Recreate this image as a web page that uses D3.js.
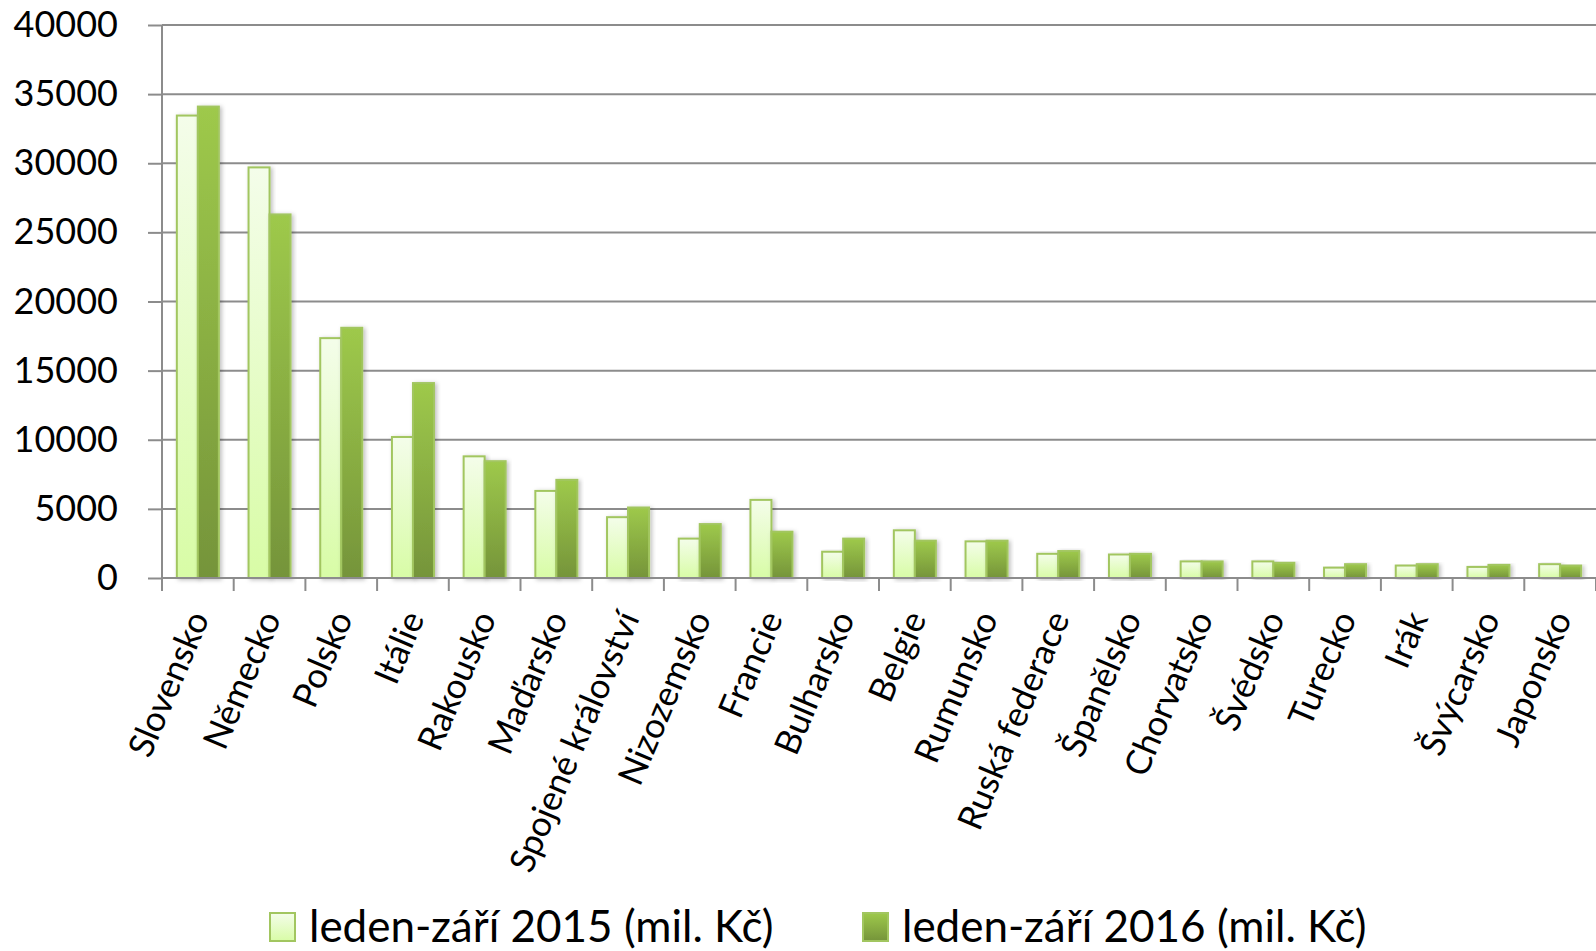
<!DOCTYPE html>
<html>
<head>
<meta charset="utf-8">
<script src="https://cdn.jsdelivr.net/npm/d3@7"></script>
<style>
  body { margin: 0; background: #fff; }
  text { font-family: Lato, "Open Sans", sans-serif; fill: #000; }
</style>
</head>
<body>
<svg id="chart" width="1596" height="951"></svg>
<script>
// data (mil. Kč)
const countries = ["Slovensko", "Německo", "Polsko", "Itálie", "Rakousko", "Maďarsko",
    "Spojené království", "Nizozemsko", "Francie", "Bulharsko", "Belgie", "Rumunsko",
    "Ruská federace", "Španělsko", "Chorvatsko", "Švédsko", "Turecko", "Irák",
    "Švýcarsko", "Japonsko"];
const values2015 = [33450, 29700, 17350, 10200, 8800, 6300, 4400, 2850, 5650, 1900,
    3450, 2650, 1750, 1700, 1200, 1200, 750, 900, 800, 1000];
const values2016 = [34100, 26300, 18100, 14100, 8450, 7100, 5100, 3900, 3350, 2850,
    2700, 2700, 1950, 1750, 1200, 1100, 1000, 1000, 950, 900];
const seriesNames = ["leden-září 2015 (mil. Kč)", "leden-září 2016 (mil. Kč)"];
const yTicks = [0, 5000, 10000, 15000, 20000, 25000, 30000, 35000, 40000];

const margin = { top: 25, right: 0, bottom: 373, left: 162 };
const W = 1596, H = 951;
const width = W - margin.left - margin.right,
    height = H - margin.top - margin.bottom;

const svg = d3.select("#chart");
const defs = svg.append("defs");

const grad = (id, top, bottom) => {
    const g = defs.append("linearGradient").attr("id", id)
        .attr("x1", 0).attr("y1", 0).attr("x2", 0).attr("y2", 1);
    g.append("stop").attr("offset", "0%").attr("stop-color", top);
    g.append("stop").attr("offset", "100%").attr("stop-color", bottom);
};
grad("g2015", "#f4fdea", "#d8fca6");
grad("g2016", "#9ec94b", "#75943a");

defs.append("filter").attr("id", "shadow")
    .attr("x", "-30%").attr("y", "-10%").attr("width", "160%").attr("height", "120%")
    .append("feDropShadow")
    .attr("dx", 2).attr("dy", 1).attr("stdDeviation", 2)
    .attr("flood-color", "#000").attr("flood-opacity", 0.25);

const g = svg.append("g").attr("transform", `translate(${margin.left},${margin.top})`);

const x = d3.scaleBand().domain(countries).range([0, width]).paddingInner(0.414).paddingOuter(0.207);
const xs = d3.scaleBand().domain([0, 1]).range([0, x.bandwidth()]);
const y = d3.scaleLinear().domain([0, 40000]).range([height, 0]);

// gridlines
g.append("g")
    .selectAll("line")
    .data(yTicks.filter(d => d > 0))
    .join("line")
    .attr("x1", 0).attr("x2", width)
    .attr("y1", d => y(d)).attr("y2", d => y(d))
    .attr("stroke", "#8c8c8c").attr("stroke-width", 2);

// bars
const rows = countries.map((c, i) => ({ c, v: [values2015[i], values2016[i]] }));
const fills = ["url(#g2015)", "url(#g2016)"];
g.append("g")
    .selectAll("g")
    .data(rows)
    .join("g")
    .attr("transform", d => `translate(${x(d.c)},0)`)
    .selectAll("rect")
    .data(d => d.v.map((v, k) => ({ v, k })))
    .join("rect")
    .attr("x", d => xs(d.k))
    .attr("width", xs.bandwidth())
    .attr("y", d => y(d.v))
    .attr("height", d => y(0) - y(d.v))
    .attr("fill", d => fills[d.k])
    .attr("stroke", "#a2c660").attr("stroke-width", 2)
    .attr("filter", "url(#shadow)");

// y axis
const yAxis = g.append("g")
    .call(d3.axisLeft(y).tickValues(yTicks).tickSize(14).tickPadding(30).tickFormat(d3.format("d")));
yAxis.select(".domain").attr("stroke", "#8c8c8c").attr("stroke-width", 2)
    .attr("d", `M-0,${height}V0`);
yAxis.selectAll(".tick line").attr("stroke", "#8c8c8c").attr("stroke-width", 2);
yAxis.selectAll(".tick text").attr("font-size", 36).attr("font-family", "Lato").attr("fill", "#000");

// x axis baseline and ticks at band edges
const xg = g.append("g").attr("transform", `translate(0,${height})`);
xg.append("line").attr("x1", 0).attr("x2", width)
    .attr("stroke", "#8c8c8c").attr("stroke-width", 2);
const step = x.step();
xg.selectAll(".xt")
    .data(d3.range(countries.length + 1))
    .join("line")
    .attr("class", "xt")
    .attr("x1", i => x(countries[0]) - x.paddingOuter() * step + i * step)
    .attr("x2", i => x(countries[0]) - x.paddingOuter() * step + i * step)
    .attr("y1", 0).attr("y2", 13)
    .attr("stroke", "#8c8c8c").attr("stroke-width", 2);

xg.selectAll(".lab")
    .data(countries)
    .join("text")
    .attr("class", "lab")
    .attr("text-anchor", "end")
    .attr("font-size", 35)
    .attr("transform", d => `translate(${x(d) + x.bandwidth() / 2 + 12},${40}) rotate(-67)`)
    .text(d => d);

// legend
const legend = svg.append("g");
const legendX = [270, 863];
seriesNames.forEach((name, k) => {
    const lg = legend.append("g").attr("transform", `translate(${legendX[k]},913)`);
    lg.append("rect").attr("width", 25).attr("height", 28)
        .attr("fill", fills[k]).attr("stroke", "#a2c660").attr("stroke-width", 2);
    lg.append("text").attr("x", 39).attr("y", 29).attr("font-size", 44).text(name);
});
</script>
</body>
</html>
